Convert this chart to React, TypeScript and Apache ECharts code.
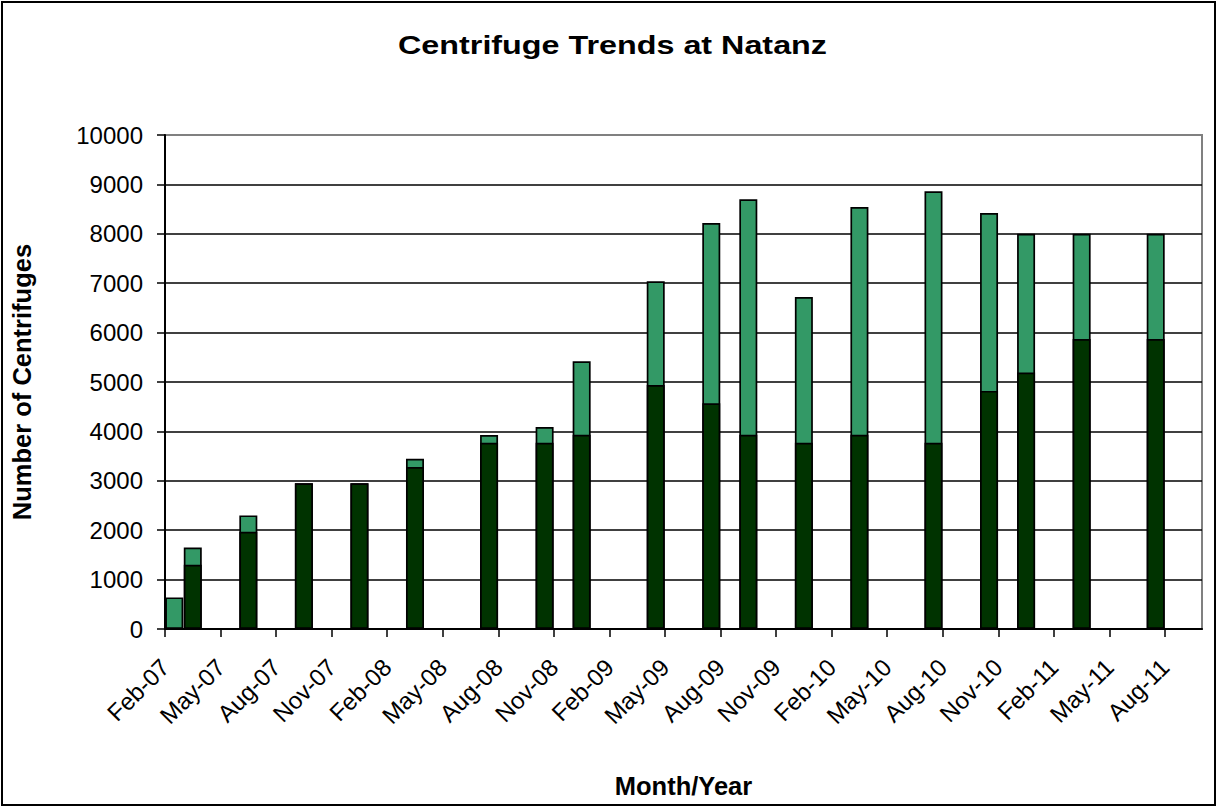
import React, { useEffect, useRef } from "react";
import * as echarts from "echarts";

const FONT = '"Liberation Sans", Arial, Helvetica, sans-serif';

const chartTitle = "Centrifuge Trends at Natanz";
const xAxisTitle = "Month/Year";
const yAxisTitle = "Number of Centrifuges";

// First month of the date axis
const axisStartMonth = "2007-02";
const axisMonthSpan = 56;

// Tick labels, every third month from Feb-07
const tickLabels = [
  "Feb-07", "May-07", "Aug-07", "Nov-07", "Feb-08", "May-08", "Aug-08",
  "Nov-08", "Feb-09", "May-09", "Aug-09", "Nov-09", "Feb-10", "May-10",
  "Aug-10", "Nov-10", "Feb-11", "May-11", "Aug-11",
];

// Report months (one bar each)
const reportMonths = [
  "2007-02", "2007-03", "2007-06", "2007-09", "2007-12", "2008-03", "2008-07",
  "2008-10", "2008-12", "2009-04", "2009-07", "2009-09", "2009-12", "2010-03",
  "2010-07", "2010-10", "2010-12", "2011-03", "2011-07",
];

// Dark segment (operating centrifuges)
const operating = [
  0, 1300, 1970, 2950, 2950, 3280, 3770, 3770, 3930, 4940, 4570, 3930, 3770,
  3930, 3770, 4820, 5190, 5870, 5870,
];

// Full bar height (installed centrifuges)
const installed = [
  640, 1650, 2300, 2950, 2950, 3445, 3925, 4090, 5420, 7040, 8220, 8700, 6720,
  8540, 8860, 8420, 8000, 8000, 8000,
];

const monthIndex = (s: string) => {
  const [y, m] = s.split("-").map(Number);
  const [y0, m0] = axisStartMonth.split("-").map(Number);
  return (y - y0) * 12 + (m - m0);
};

export default function App() {
  const ref = useRef<HTMLDivElement>(null);

  useEffect(() => {
    if (!ref.current) return;
    const chart = echarts.init(ref.current, undefined, { renderer: "svg" });

    const xs = reportMonths.map((d) => monthIndex(d) + 0.5);
    const tickValues = tickLabels.map((_, i) => i * 3);

    const barStyle = { borderColor: "#000", borderWidth: 1.7 };

    chart.setOption({
      animation: false,
      backgroundColor: "#fff",
      textStyle: { fontFamily: FONT },
      graphic: [
        {
          type: "rect",
          silent: true,
          z: -10,
          shape: { x: 2, y: 2, width: 1213, height: 803 },
          style: { stroke: "#000", lineWidth: 2, fill: "transparent" },
        },
        {
          type: "text",
          x: 612.5,
          y: 45,
          scaleX: 1.243,
          style: {
            text: chartTitle,
            fontFamily: FONT,
            fontSize: 26,
            fontWeight: "bold",
            fill: "#000",
            align: "center",
            verticalAlign: "middle",
            textAlign: "center",
            textVerticalAlign: "middle",
          },
        },
      ],
      grid: {
        left: 165,
        top: 135,
        right: 15,
        bottom: 178,
        show: true,
        borderColor: "#808080",
        borderWidth: 2,
        backgroundColor: "#fff",
      },
      xAxis: {
        type: "value",
        min: 0,
        max: axisMonthSpan,
        name: xAxisTitle,
        nameLocation: "middle",
        nameGap: 144,
        nameTextStyle: {
          fontFamily: FONT,
          fontSize: 25.5,
          fontWeight: "bold",
          color: "#000",
        },
        axisLine: { show: true, lineStyle: { color: "#000", width: 2 } },
        axisTick: {
          show: true,
          length: 8,
          customValues: tickValues,
          lineStyle: { color: "#000", width: 1.5 },
        },
        axisLabel: {
          customValues: tickValues,
          rotate: 45,
          margin: 34,
          fontFamily: FONT,
          fontSize: 24,
          color: "#000",
          formatter: (v: number) => tickLabels[Math.round(v / 3)] ?? "",
        },
        splitLine: { show: false },
      },
      yAxis: {
        type: "value",
        min: 0,
        max: 10000,
        interval: 1000,
        name: yAxisTitle,
        nameLocation: "middle",
        nameRotate: 90,
        nameGap: 130,
        nameTextStyle: {
          fontFamily: FONT,
          fontSize: 25.5,
          fontWeight: "bold",
          color: "#000",
        },
        axisLine: { show: true, lineStyle: { color: "#000", width: 2 } },
        axisTick: { show: true, length: 8, lineStyle: { color: "#000", width: 1.5 } },
        axisLabel: {
          margin: 22,
          fontFamily: FONT,
          fontSize: 24,
          color: "#000",
          formatter: (v: number) => String(v),
        },
        splitLine: {
          show: true,
          showMaxLine: false,
          lineStyle: { color: "#000", width: 1.5 },
        },
      },
      series: [
        {
          name: "Installed",
          type: "bar",
          barWidth: 18,
          barGap: "-100%",
          itemStyle: { color: "#339966", ...barStyle },
          data: xs.map((x, i) => [x, installed[i]]),
        },
        {
          name: "Operating",
          type: "bar",
          barWidth: 18,
          barGap: "-100%",
          itemStyle: { color: "#003300", ...barStyle },
          data: xs.map((x, i) => [x, operating[i]]),
        },
      ],
    });

    return () => chart.dispose();
  }, []);

  return (
    <div
      ref={ref}
      style={{
        position: "absolute",
        left: 0,
        top: 0,
        width: 1217,
        height: 807,
        background: "#fff",
      }}
    />
  );
}
